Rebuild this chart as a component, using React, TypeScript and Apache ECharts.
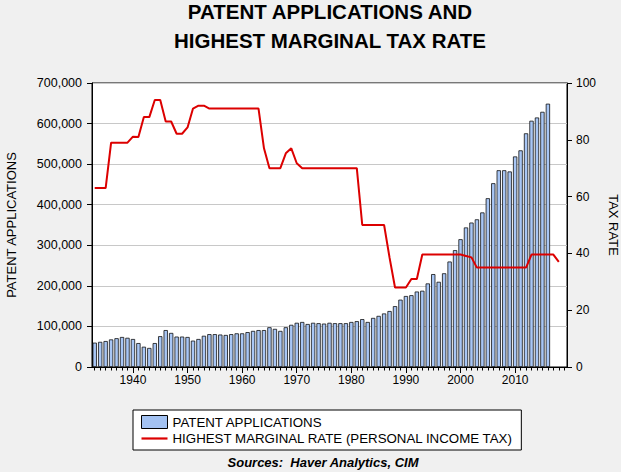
import React, { useEffect, useRef } from "react";
import * as echarts from "echarts";

const years: string[] = [];
for (let y = 1933; y <= 2019; y++) years.push(String(y));

// Patent applications, 1933-2016
const patentApplications: number[] = [
  60000, 62000, 64000, 68000, 71000, 74000, 72000, 69000, 59000, 50000,
  47000, 59000, 76000, 91000, 84000, 75000, 75000, 74000, 65000, 69000,
  77000, 81000, 81000, 80000, 79000, 81000, 83000, 83000, 86000, 89000,
  91000, 91000, 98000, 94000, 89000, 98000, 104000, 109000, 111000, 106000,
  109000, 108000, 107000, 109000, 108000, 108000, 108000, 111000, 113000, 118000,
  111000, 121000, 126000, 132000, 138000, 150000, 166000, 175000, 177000, 186000,
  188000, 206000, 229000, 210000, 231000, 260000, 288000, 315000, 344000, 356000,
  364000, 381000, 416000, 453000, 485000, 485000, 482000, 519000, 534000, 576000,
  607000, 615000, 629000, 649000,
];

// Highest marginal personal income tax rate, 1933-2018
const taxRate: number[] = [
  63, 63, 63, 79, 79, 79, 79, 81.1, 81, 88,
  88, 94, 94, 86.45, 86.45, 82.13, 82.13, 84.36, 91, 92,
  92, 91, 91, 91, 91, 91, 91, 91, 91, 91,
  91, 77, 70, 70, 70, 75.25, 77, 71.75, 70, 70,
  70, 70, 70, 70, 70, 70, 70, 70, 70, 50,
  50, 50, 50, 50, 38.5, 28, 28, 28, 31, 31,
  39.6, 39.6, 39.6, 39.6, 39.6, 39.6, 39.6, 39.6, 39.1, 38.6,
  35, 35, 35, 35, 35, 35, 35, 35, 35, 35,
  39.6, 39.6, 39.6, 39.6, 39.6, 37,
];

const leftTicks = { min: 0, max: 700000, interval: 100000 };
const rightTicks = { min: 0, max: 100, interval: 20 };

const SERIES_BAR = "PATENT APPLICATIONS";
const SERIES_LINE = "HIGHEST MARGINAL RATE (PERSONAL INCOME TAX)";

const FONT = "'Liberation Sans', Arial, Helvetica, sans-serif";

export default function App() {
  const ref = useRef<HTMLDivElement>(null);

  useEffect(() => {
    if (!ref.current) return;
    const chart = echarts.init(ref.current, undefined, { renderer: "svg" });
    const isDecade = (_i: number, v: string) => Number(v) % 10 === 0;
    chart.setOption({
      animation: false,
      backgroundColor: "#f0f0f0",
      textStyle: { fontFamily: FONT, color: "#000" },
      title: [
        {
          text: "PATENT APPLICATIONS AND\nHIGHEST MARGINAL TAX RATE",
          left: 330,
          top: -3,
          padding: 0,
          textAlign: "center",
          textStyle: {
            fontFamily: FONT,
            fontSize: 20.5,
            fontWeight: "bold",
            lineHeight: 29,
            color: "#000",
          },
        },
        {
          text: "Sources:  Haver Analytics, CIM",
          left: 323,
          top: 456,
          padding: 0,
          textAlign: "center",
          textStyle: {
            fontFamily: FONT,
            fontSize: 13,
            fontWeight: "bold",
            fontStyle: "italic",
            color: "#000",
          },
        },
      ],
      legend: {
        orient: "vertical",
        left: 133,
        top: 410,
        padding: [5, 8, 5, 8],
        itemGap: 3,
        itemWidth: 26,
        itemHeight: 13,
        symbolKeepAspect: true,
        borderColor: "#000",
        borderWidth: 1,
        borderRadius: 0,
        backgroundColor: "#fff",
        textStyle: { fontFamily: FONT, fontSize: 13.3, color: "#000" },
        data: [
          {
            name: SERIES_BAR,
            icon: "rect",
            itemStyle: { color: "#a3c2f2", borderColor: "#000", borderWidth: 1 },
          },
          {
            name: SERIES_LINE,
            icon: "path://M0,0H26V2.2H0Z",
            itemStyle: { color: "#dc0000", borderWidth: 0 },
          },
        ],
      },
      grid: {
        left: 92,
        right: 54,
        top: 83,
        bottom: 105,
        containLabel: false,
        outerBoundsMode: "none",
        show: true,
        backgroundColor: "#fff",
        borderColor: "#000",
        borderWidth: 1,
      },
      xAxis: [
        {
          type: "category",
          data: years,
          boundaryGap: true,
          axisLine: { show: true, lineStyle: { color: "#000", width: 1 } },
          axisTick: {
            show: true,
            alignWithLabel: true,
            interval: 0,
            length: 3.5,
            lineStyle: { color: "#000" },
          },
          axisLabel: {
            interval: isDecade,
            margin: 7,
            fontSize: 12,
            color: "#000",
            fontFamily: FONT,
          },
          splitLine: { show: false },
        },
        {
          type: "category",
          data: years,
          position: "bottom",
          boundaryGap: true,
          axisLine: { show: false },
          axisTick: {
            show: true,
            alignWithLabel: true,
            interval: isDecade,
            length: 6,
            lineStyle: { color: "#000" },
          },
          axisLabel: { show: false },
          splitLine: { show: false },
        },
      ],
      yAxis: [
        {
          type: "value",
          position: "left",
          min: leftTicks.min,
          max: leftTicks.max,
          interval: leftTicks.interval,
          name: "PATENT APPLICATIONS",
          nameLocation: "middle",
          nameGap: 74,
          nameTextStyle: { fontFamily: FONT, fontSize: 13, color: "#000" },
          axisLine: { show: true, lineStyle: { color: "#000" } },
          axisTick: { show: true, length: 5, lineStyle: { color: "#000" } },
          axisLabel: {
            margin: 10,
            fontSize: 12.5,
            color: "#000",
            fontFamily: FONT,
            formatter: (v: number) => v.toLocaleString("en-US"),
          },
          splitLine: { show: true, lineStyle: { color: "#c8c8c8", width: 1 } },
        },
        {
          type: "value",
          position: "right",
          min: rightTicks.min,
          max: rightTicks.max,
          interval: rightTicks.interval,
          name: "TAX RATE",
          nameLocation: "middle",
          nameRotate: -90,
          nameGap: 39,
          nameTextStyle: { fontFamily: FONT, fontSize: 13, color: "#000" },
          axisLine: { show: true, lineStyle: { color: "#000" } },
          axisTick: { show: true, length: 5, lineStyle: { color: "#000" } },
          axisLabel: { margin: 9, fontSize: 12, color: "#000", fontFamily: FONT },
          splitLine: { show: false },
        },
      ],
      series: [
        {
          name: SERIES_BAR,
          type: "bar",
          xAxisIndex: 0,
          yAxisIndex: 0,
          data: patentApplications,
          barWidth: 4.3,
          itemStyle: { color: "#a8c6f5", borderColor: "#111", borderWidth: 0.8 },
          z: 2,
        },
        {
          name: SERIES_LINE,
          type: "line",
          xAxisIndex: 0,
          yAxisIndex: 1,
          data: taxRate,
          symbol: "none",
          showSymbol: false,
          lineStyle: { color: "#dc0000", width: 2 },
          itemStyle: { color: "#dc0000" },
          z: 3,
        },
      ],
    });
    return () => chart.dispose();
  }, []);

  return (
    <div
      ref={ref}
      style={{ position: "fixed", left: 0, top: 0, width: 621, height: 472 }}
    />
  );
}
